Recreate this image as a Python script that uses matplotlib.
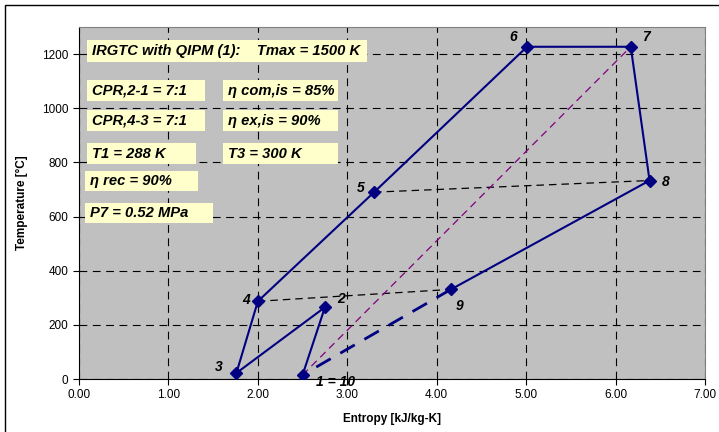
import matplotlib.pyplot as plt
from matplotlib.patches import Rectangle

plt.rcParams['font.family'] = ['Liberation Sans', 'DejaVu Sans']

# cycle state points (entropy kJ/kg-K, temperature C)
labels = ["1 = 10", "2", "3", "4", "5", "6", "7", "8", "9"]
s = [2.50, 2.75, 1.76, 2.00, 3.30, 5.01, 6.17, 6.38, 4.16]
T = [15, 265, 22, 287, 690, 1227, 1227, 733, 331]

# label offsets in points
offs = [(10, -5), (9, 6), (-10, 4), (-6, 1), (-7, 3), (-7, 7), (8, 7), (9, -1), (3, -12)]

info_texts = [
    "IRGTC with QIPM (1):    Tmax = 1500 K",
    "CPR,2-1 = 7:1", "η com,is = 85%",
    "CPR,4-3 = 7:1", "η ex,is = 90%",
    "T1 = 288 K", "T3 = 300 K",
    "η rec = 90%",
    "P7 = 0.52 MPa",
]
# boxes in pixel coords: x0, y0 (top), x1, y1
info_boxes = [
    (87, 40, 367, 62),
    (87, 80, 205, 101), (223, 80, 338, 101),
    (87, 110, 205, 131), (223, 110, 338, 131),
    (87, 143, 196, 164), (223, 143, 338, 164),
    (85, 171, 198, 191),
    (85, 203, 213, 223),
]

W, H = 719, 432
fig = plt.figure(figsize=(W / 100, H / 100), dpi=100)
ax = fig.add_axes([79 / W, 1 - 379 / H, (705 - 79) / W, (379 - 27) / H])
ax.set_facecolor("#c0c0c0")

navy = "#000080"
# solid path 1-2-3-4-5-6-7-8-9
ax.plot(s, T, color=navy, lw=1.5, marker="D", ms=6, zorder=4)
# 9 -> 1 dashed
ax.plot([s[8], s[0]], [T[8], T[0]], color=navy, lw=2, dashes=(6, 4), zorder=3)
# recuperator lines
ax.plot([s[3], s[8]], [T[3], T[8]], color="black", lw=0.9, dashes=(6, 4), zorder=3)
ax.plot([s[4], s[7]], [T[4], T[7]], color="black", lw=0.9, dashes=(6, 4), zorder=3)
# isentropic reference
ax.plot([s[0], s[6]], [T[0], T[6]], color="#800080", lw=0.9, dashes=(6, 4), zorder=3)

for lab, x, y, (dx, dy) in zip(labels, s, T, offs):
    ha = "left" if dx > 0 else "right"
    ax.annotate(lab, (x, y), xytext=(dx, dy), textcoords="offset points",
                ha=ha, va="center", fontsize=10, fontweight="bold", fontstyle="italic",
                zorder=5)

ax.set_xlim(0, 7)
ax.set_ylim(0, 1300)
ax.set_xticks([0, 1, 2, 3, 4, 5, 6, 7])
ax.set_xticklabels([f"{v:.2f}" for v in range(8)])
ax.set_yticks(range(0, 1201, 200))
ax.tick_params(direction="out", length=4, labelsize=8.5, width=0.8)
ax.grid(True, color="black", lw=0.8, dashes=(7, 5))
ax.set_axisbelow(True)
for sp in ["top", "right"]:
    ax.spines[sp].set_color("#808080")
ax.set_xlabel("Entropy [kJ/kg-K]", fontsize=8.5, fontweight="bold", labelpad=8)
ax.set_ylabel("Temperature [°C]", fontsize=8.5, fontweight="bold", labelpad=10)

for txt, (x0, y0, x1, y1) in zip(info_texts, info_boxes):
    fig.patches.append(Rectangle((x0 / W, 1 - y1 / H), (x1 - x0) / W, (y1 - y0) / H,
                                 transform=fig.transFigure, facecolor="#ffffcc",
                                 edgecolor="none", zorder=6))
    fig.text((x0 + 5) / W, 1 - (y0 + y1) / 2 / H, txt, fontsize=10.6, fontweight="bold",
             fontstyle="italic", va="center", ha="left", zorder=7)

# chart area frame
fig.patches.append(Rectangle((5 / W, -0.1), 1.2, 1 - 5 / H + 0.1, transform=fig.transFigure,
                             facecolor="none", edgecolor="black", lw=1, clip_on=False))

plt.savefig("out.png", dpi=100)
plt.close()
